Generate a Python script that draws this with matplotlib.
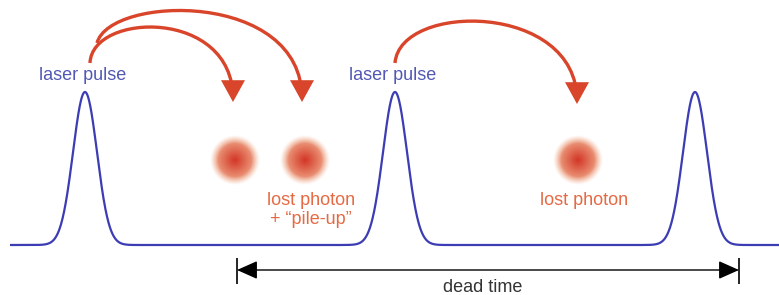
import numpy as np
import matplotlib.pyplot as plt
from matplotlib.patches import FancyArrowPatch
from matplotlib.path import Path
from matplotlib.colors import to_rgb

plt.rcParams["font.family"] = ["Liberation Sans", "DejaVu Sans"]

# ============================================================
# DATA (pixel coordinates of the sketch)
# ============================================================

pulse_centers = [85, 395, 695]
pulse_sigma = 12
baseline_y = 245
peak_y = 92
line_start, line_end = 10, 779

photon_x = [235, 305, 578]
photon_y = 160
photon_r = 25

pulse_labels = ["laser pulse", "laser pulse"]
pulse_label_x = [83, 393]
pulse_label_y = 76

lost_labels = ["lost photon\n+ \u201cpile-up\u201d", "lost photon"]
lost_label_x = [311, 584]
lost_label_y = 192

# red arrows: start, two control points, tip
arrow_curves = [
    [(90, 63), (92, 12), (233, 8), (233, 102)],
    [(97, 43), (110, -5), (302, -10), (302, 102)],
    [(395, 63), (400, 2), (577, 2), (577, 104)],
]

dead_start, dead_end = 237, 739
dead_y = 270
dead_label = "dead time"

BLUE = "#3c3cb4"
BLUE_TXT = "#5258b4"
RED = "#d9452a"
ORANGE_TXT = "#e56a44"

# ============================================================
# PLOT
# ============================================================

fig = plt.figure(figsize=(7.79, 2.95), dpi=100)
ax = fig.add_axes([0, 0, 1, 1])

# pulse train
x = np.linspace(line_start, line_end, 3000)
y = np.full_like(x, float(baseline_y))
for c in pulse_centers:
    y -= (baseline_y - peak_y) * np.exp(-(x - c) ** 2 / (2 * pulse_sigma ** 2))
ax.plot(x, y, color=BLUE, lw=1.6, solid_capstyle="butt")

# photons as radial blobs
n = 121
g = np.linspace(-1, 1, n)
gx, gy = np.meshgrid(g, g)
r = np.sqrt(gx ** 2 + gy ** 2)
c0 = np.array(to_rgb("#d33525"))
c1 = np.array(to_rgb("#f3b896"))
t = np.clip(r, 0, 1)[..., None]
rgba = np.zeros((n, n, 4))
rgba[..., :3] = c0 * (1 - t) + c1 * t
rgba[..., 3] = np.clip((1 - r) * 3.0, 0, 1)
for px in photon_x:
    ax.imshow(rgba, extent=(px - photon_r, px + photon_r,
                            photon_y + photon_r, photon_y - photon_r),
              interpolation="bilinear", aspect="auto", zorder=3)

ax.set_xlim(0, 779)
ax.set_ylim(295, 0)
ax.axis("off")

# curved red arrows
for pts in arrow_curves:
    path = Path(pts, [Path.MOVETO, Path.CURVE4, Path.CURVE4, Path.CURVE4])
    arr = FancyArrowPatch(path=path,
                          arrowstyle="-|>,head_length=1.0,head_width=0.55",
                          mutation_scale=12, color=RED, lw=2.4,
                          joinstyle="miter", capstyle="butt", zorder=4)
    ax.add_patch(arr)

# labels
for lab, lx in zip(pulse_labels, pulse_label_x):
    ax.text(lx, pulse_label_y, lab, color=BLUE_TXT, fontsize=13,
            ha="center", va="center")
for lab, lx in zip(lost_labels, lost_label_x):
    ax.text(lx, lost_label_y, lab, color=ORANGE_TXT, fontsize=13,
            ha="center", va="top", linespacing=1.15)

# dead time marker
ax.annotate("", xy=(dead_start, dead_y), xytext=(dead_end, dead_y),
            arrowprops=dict(arrowstyle="<|-|>,head_length=0.9,head_width=0.4",
                            mutation_scale=14, color="black", lw=1.0,
                            shrinkA=0, shrinkB=0))
ax.vlines([dead_start, dead_end], dead_y - 12, dead_y + 14,
          color="black", lw=1.2)
ax.text((dead_start + dead_end) / 2 - 5, 288, dead_label, color="#333333",
        fontsize=13, ha="center", va="center")

fig.savefig("out.png", dpi=100)
